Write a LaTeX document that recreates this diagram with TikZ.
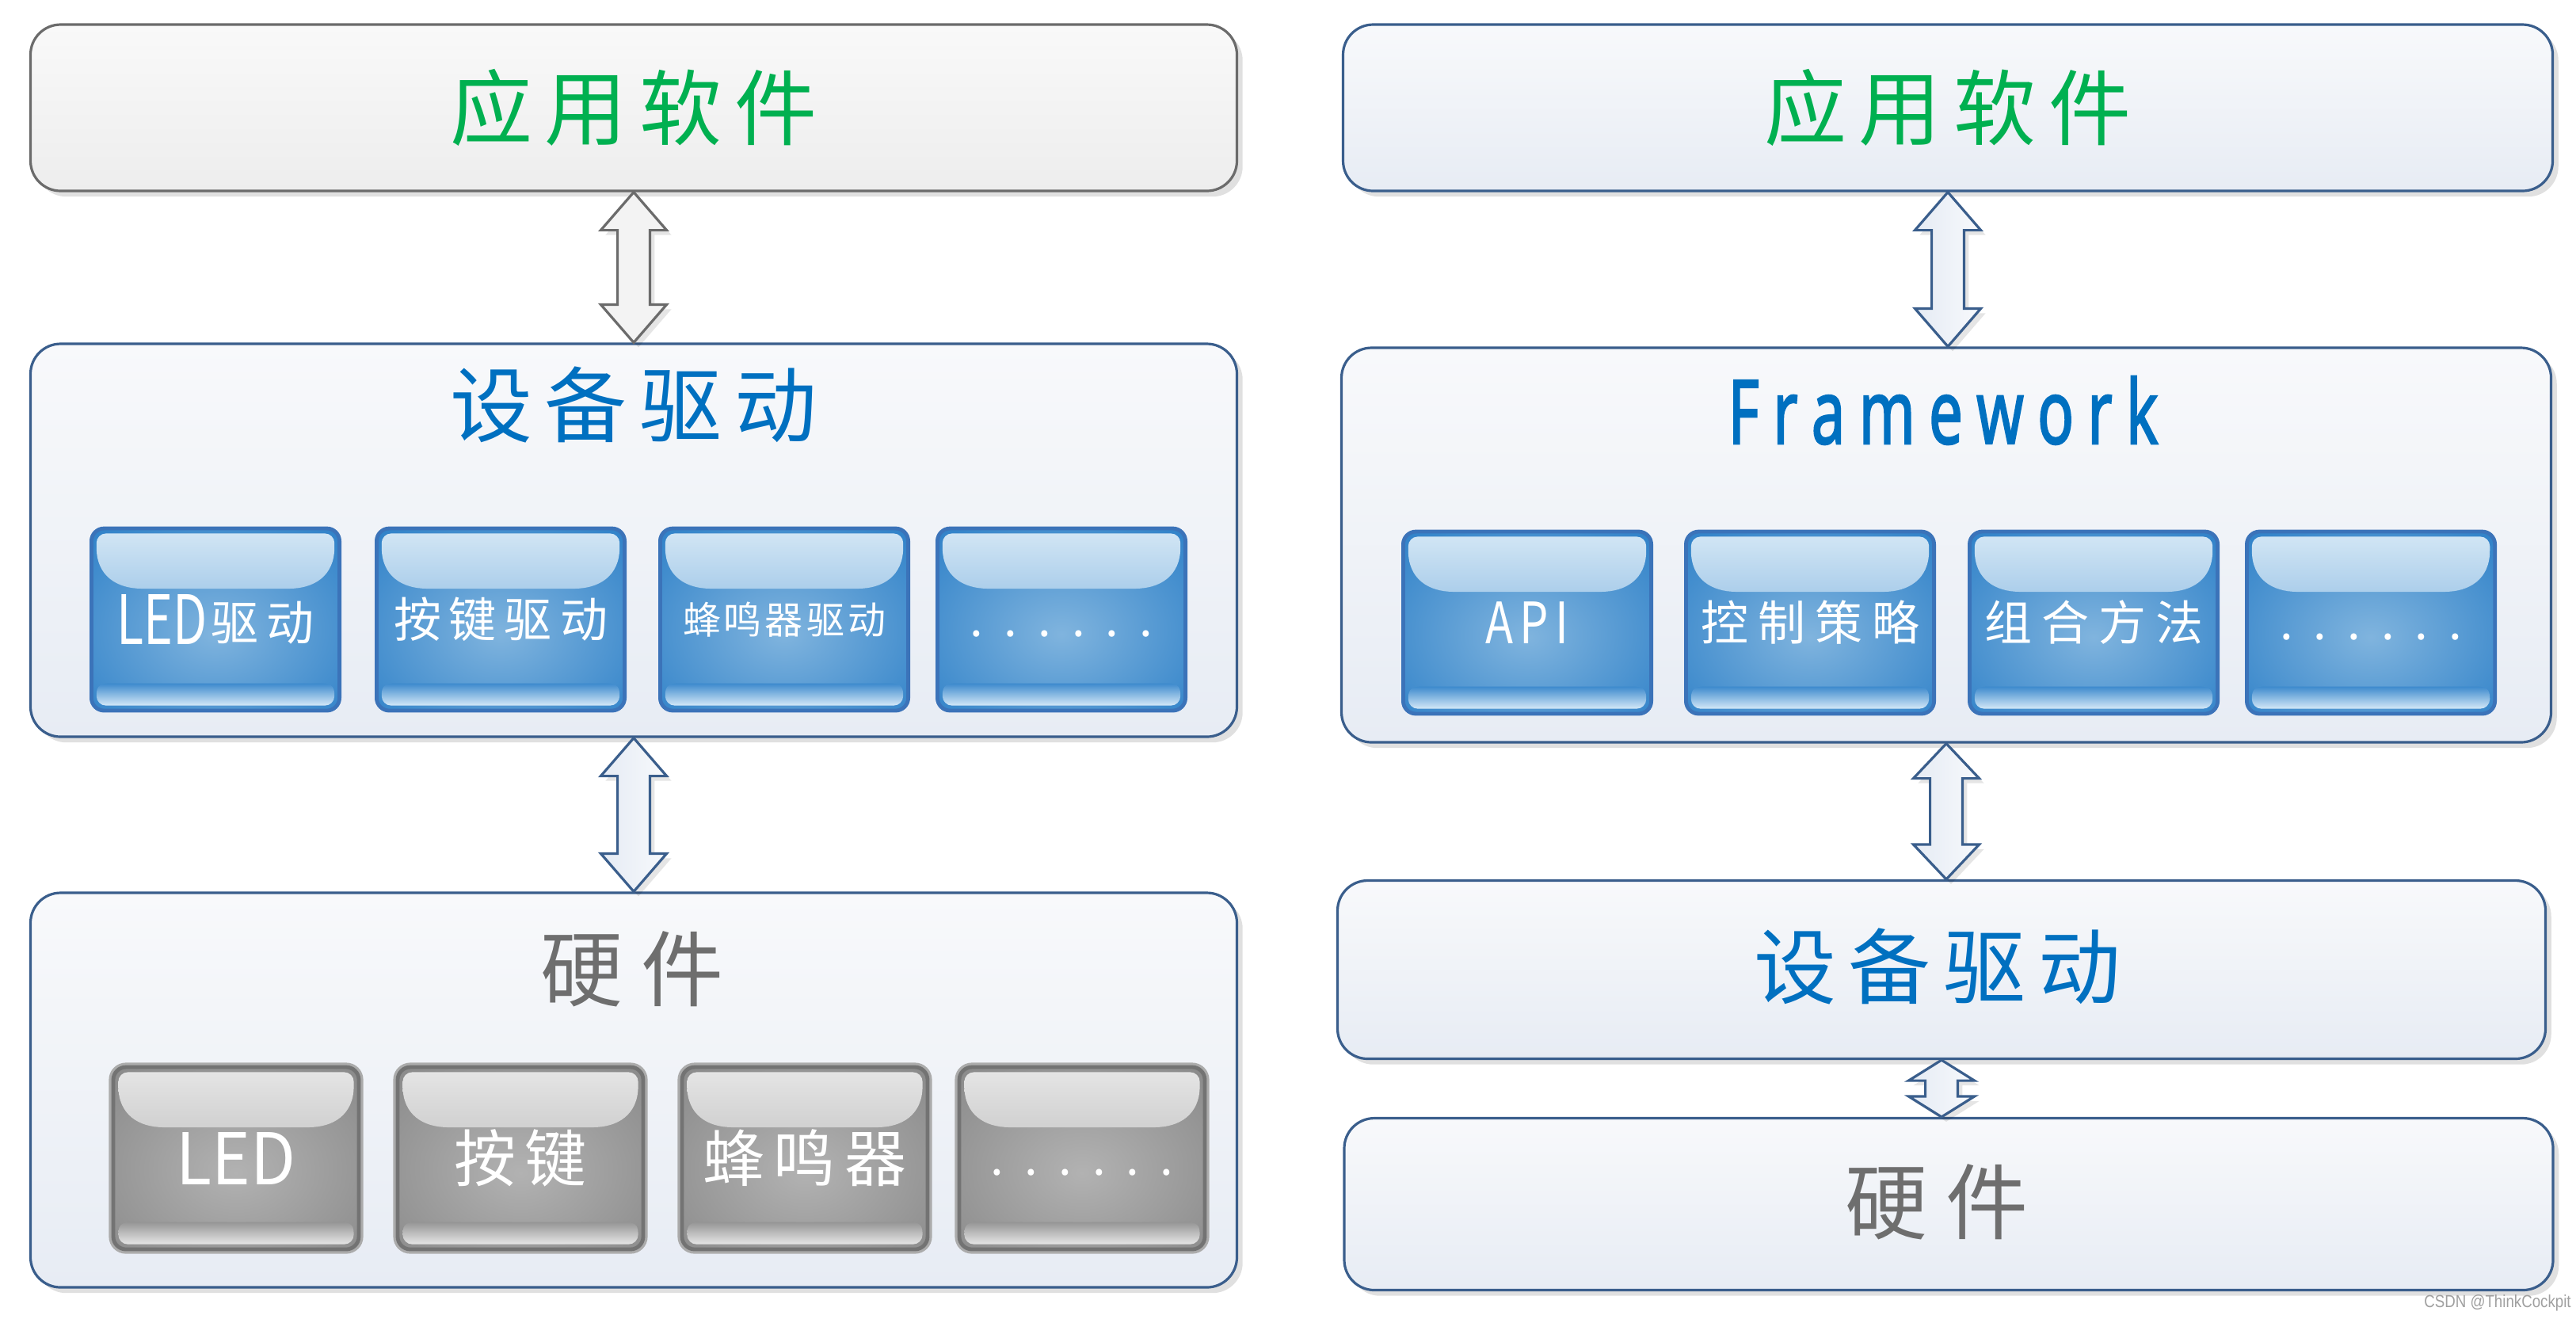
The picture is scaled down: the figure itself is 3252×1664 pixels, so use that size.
\documentclass[tikz,border=0pt]{standalone}
\usepackage{graphicx}
\usepackage{fontspec}
\setmainfont{Noto Sans CJK SC}
\newfontfamily\latinfont{Noto Sans}[FakeBold=2.2]
\newfontfamily\wmfont{Liberation Sans}
\usetikzlibrary{calc,shadows}

\definecolor{boxblue}{HTML}{3A5E8C}
\definecolor{boxgray}{HTML}{6B6B6B}
\definecolor{txtgreen}{HTML}{00B050}
\definecolor{txtblue}{HTML}{0070C0}
\definecolor{txtgray}{HTML}{6E6E6E}
\definecolor{fillTop}{HTML}{F8F9FB}
\definecolor{fillBot}{HTML}{E7ECF4}
\definecolor{gfillTop}{HTML}{F9F9F9}
\definecolor{gfillBot}{HTML}{EDEDED}
\definecolor{bcen}{HTML}{80B4DE}
\definecolor{bedge}{HTML}{1F77C4}
\definecolor{gcen}{HTML}{B2B2B2}
\definecolor{gedge}{HTML}{828282}
\definecolor{bline}{HTML}{3B73B9}
\definecolor{gline}{HTML}{737373}
\definecolor{gring}{HTML}{ABABAB}
\definecolor{bglossT}{HTML}{D4E7F5}
\definecolor{bglossB}{HTML}{5C9DD6}
\definecolor{bstripT}{HTML}{3D8ACD}
\definecolor{bstripB}{HTML}{D4E8F7}
\definecolor{gglossT}{HTML}{E6E6E6}
\definecolor{gglossB}{HTML}{A6A6A6}
\definecolor{gstripT}{HTML}{959595}
\definecolor{gstripB}{HTML}{E6E6E6}
\definecolor{arrL}{HTML}{E5EBF4}
\definecolor{arrR}{HTML}{F7F9FC}
\definecolor{garr}{HTML}{F3F3F3}
\definecolor{wmgray}{HTML}{A0A0A0}

\pgfdeclareradialshading{blueglow}{\pgfpoint{0bp}{-4bp}}{color(0bp)=(bcen); color(44bp)=(bedge); color(80bp)=(bedge)}
\pgfdeclareradialshading{grayglow}{\pgfpoint{0bp}{-4bp}}{color(0bp)=(gcen); color(44bp)=(gedge); color(80bp)=(gedge)}

% #1 gloss top, #2 gloss bottom, #3 strip top, #4 strip bottom
\newcommand\btngloss[4]{%
  \path[sharp corners, top color=#1, bottom color=#2]
    let \p1=(path picture bounding box.north west), \p2=(path picture bounding box.south east) in
    (\x1+1.6pt,\y1-6pt) -- (\x1+1.6pt,\y1-4.6pt) arc[start angle=180,end angle=90,radius=3pt]
    -- (\x2-4.6pt,\y1-1.6pt) arc[start angle=90,end angle=0,radius=3pt]
    -- (\x2-1.6pt,\y1-6pt) .. controls (\x2-1.6pt,\y1-15pt) and (\x2-8pt,\y1-19pt) .. (\x2-16pt,\y1-19pt)
    -- (\x1+16pt,\y1-19pt) .. controls (\x1+8pt,\y1-19pt) and (\x1+1.6pt,\y1-15pt) .. cycle;
  \path[sharp corners, top color=#3, bottom color=#4]
    let \p1=(path picture bounding box.north west), \p2=(path picture bounding box.south east) in
    (\x1+1.6pt,\y2+4.6pt) -- (\x1+1.6pt,\y2+5pt) .. controls (\x1+1.6pt,\y2+8pt) and (\x1+3pt,\y2+8.6pt) .. (\x1+6pt,\y2+8.6pt)
    -- (\x2-6pt,\y2+8.6pt) .. controls (\x2-3pt,\y2+8.6pt) and (\x2-1.6pt,\y2+8pt) .. (\x2-1.6pt,\y2+5pt)
    -- (\x2-1.6pt,\y2+4.6pt) arc[start angle=0,end angle=-90,radius=3pt]
    -- (\x1+4.6pt,\y2+1.6pt) arc[start angle=270,end angle=180,radius=3pt] -- cycle;
}

\newcommand\dblarrow[4]{%
  \path[#4] let \p1=(#1.south), \p2=(#2.north) in
    (\p1) -- (\x1+10.4pt,\y1-#3) -- (\x1+5.1pt,\y1-#3) -- (\x1+5.1pt,\y2+#3) -- (\x1+10.4pt,\y2+#3)
    -- (\x1,\y2) -- (\x1-10.4pt,\y2+#3) -- (\x1-5.1pt,\y2+#3) -- (\x1-5.1pt,\y1-#3) -- (\x1-10.4pt,\y1-#3) -- cycle;
}

\newcommand\titlefont{\fontsize{26}{26}\selectfont}
\newcommand\btnfont{\fontsize{15}{15}\selectfont}
\newcommand\gbtnfont{\fontsize{19.5}{19.5}\selectfont}

\tikzset{
  layerbox/.style={rounded corners=9.5pt, draw=boxblue, line width=0.8pt,
    top color=fillTop, bottom color=fillBot, inner sep=0pt,
    drop shadow={shadow xshift=1.8pt, shadow yshift=-1.8pt, fill=black, opacity=0.12}},
  graylayer/.style={layerbox, draw=boxgray, top color=gfillTop, bottom color=gfillBot},
  titletext/.style={inner sep=0pt, font=\titlefont},
  btn/.style={rounded corners=4pt, line width=1.2pt, minimum width=78.3pt,
    minimum height=57.5pt, inner sep=0pt, text=white},
  bluebtn/.style={btn, draw=bline, shade, shading=blueglow,
    path picture={\btngloss{bglossT}{bglossB}{bstripT}{bstripB}}, font=\btnfont},
  graybtn/.style={btn, draw=gline, shade, shading=grayglow, minimum width=77.5pt, minimum height=57.5pt,
    preaction={draw=gring, line width=2.8pt}, path picture={\btngloss{gglossT}{gglossB}{gstripT}{gstripB}}, font=\gbtnfont},
  grayarrow/.style={draw=boxgray, line width=0.8pt, fill=garr, line join=miter,
    drop shadow={shadow xshift=1.5pt, shadow yshift=-1.5pt, fill=black, opacity=0.1}},
  bluearrow/.style={draw=boxblue, line width=0.8pt, left color=arrL, right color=arrR, line join=miter,
    drop shadow={shadow xshift=1.5pt, shadow yshift=-1.5pt, fill=black, opacity=0.1}},
}

\begin{document}
\begin{tikzpicture}[x=0.25pt,y=-0.25pt]
\fill[white] (0,0) rectangle (3252,1664);
\useasboundingbox (0,0) rectangle (3252,1664);

% ---------------- left column ----------------
\node[graylayer, minimum width=380.75pt, minimum height=52.5pt, text=txtgreen, font=\titlefont]
  (L1) at (800,136) {应\kern4pt 用\kern4pt 软\kern4pt 件};

\node[layerbox, minimum width=380.75pt, minimum height=124pt] (L2) at (800,682) {};
\node[titletext, text=txtblue] (L2t) at (800,511) {设\kern4pt 备\kern4pt 驱\kern4pt 动};
\node[bluebtn] (L2a) at (272,782) {\raisebox{-1.2pt}{\fontsize{21.5}{21.5}\selectfont\scalebox{0.73}[1]{LED}}\kern1pt 驱\kern2.5pt 动};
\node[bluebtn] (L2b) at (632,782) {按\kern2.5pt 键\kern2.5pt 驱\kern2.5pt 动};
\node[bluebtn, font=\fontsize{12}{12}\selectfont] (L2c) at (990,782) {蜂\kern1pt 鸣\kern1pt 器\kern1pt 驱\kern1pt 动};
\node[bluebtn] (L2d) at (1340,782) {\vphantom{驱}.\kern6.5pt .\kern6.5pt .\kern6.5pt .\kern6.5pt .\kern6.5pt .};

\node[layerbox, minimum width=380.75pt, minimum height=124.5pt] (L3) at (800,1376) {};
\node[titletext, text=txtgray] (L3t) at (798,1223) {硬\kern6pt 件};
\node[graybtn] (L3a) at (298,1462) {\fontsize{22.5}{22.5}\selectfont\scalebox{0.92}[1]{LED}};
\node[graybtn] (L3b) at (657,1462) {按\kern3pt 键};
\node[graybtn] (L3c) at (1016,1462) {蜂\kern3pt 鸣\kern3pt 器};
\node[graybtn, font=\btnfont] (L3d) at (1366,1462) {\vphantom{驱}.\kern6.5pt .\kern6.5pt .\kern6.5pt .\kern6.5pt .\kern6.5pt .};

% ---------------- right column ----------------
\node[layerbox, minimum width=381.75pt, minimum height=52.5pt, text=txtgreen, font=\titlefont]
  (R1) at (2459,136) {应\kern4pt 用\kern4pt 软\kern4pt 件};

\node[layerbox, minimum width=381.75pt, minimum height=124.5pt] (R2) at (2457,688) {};
\node[inner sep=0pt, text=txtblue, font=\latinfont\fontsize{28}{28}\selectfont] (R2t) at (2453,518)
  {\scalebox{0.68}[1]{F\kern6.3pt r\kern6.3pt a\kern6.3pt m\kern6.3pt e\kern6.3pt w\kern6.3pt o\kern6.3pt r\kern6.3pt k}};
\node[bluebtn] (R2a) at (1928,786) {\fontsize{18}{18}\selectfont\scalebox{0.8}[1]{A\kern2.5pt P\kern2.5pt I}};
\node[bluebtn] (R2b) at (2285,786) {控\kern3pt 制\kern3pt 策\kern3pt 略};
\node[bluebtn] (R2c) at (2643,786) {组\kern3pt 合\kern3pt 方\kern3pt 法};
\node[bluebtn] (R2d) at (2993,786) {\vphantom{驱}.\kern6.5pt .\kern6.5pt .\kern6.5pt .\kern6.5pt .\kern6.5pt .};

\node[layerbox, minimum width=381.25pt, minimum height=56.25pt] (R3) at (2451,1224) {};
\node[titletext, text=txtblue] (R3t) at (2446,1220) {设\kern4pt 备\kern4pt 驱\kern4pt 动};

\node[layerbox, minimum width=381.5pt, minimum height=54.25pt] (R4) at (2460,1520) {};
\node[titletext, text=txtgray] (R4t) at (2445,1517) {硬\kern6pt 件};

% ---------------- arrows ----------------
\dblarrow{L1}{L2}{12pt}{grayarrow}
\dblarrow{L2}{L3}{12pt}{bluearrow}
\dblarrow{R1}{R2}{12pt}{bluearrow}
\dblarrow{R2}{R3}{11pt}{bluearrow}
\dblarrow{R3}{R4}{6.5pt}{bluearrow}

% watermark
\node[inner sep=0pt, text=wmgray, font=\wmfont\fontsize{5.5}{5.5}\selectfont] (wm) at (3153,1645)
  {\scalebox{0.85}[1]{CSDN @ThinkCockpit}};
\end{tikzpicture}
\end{document}
